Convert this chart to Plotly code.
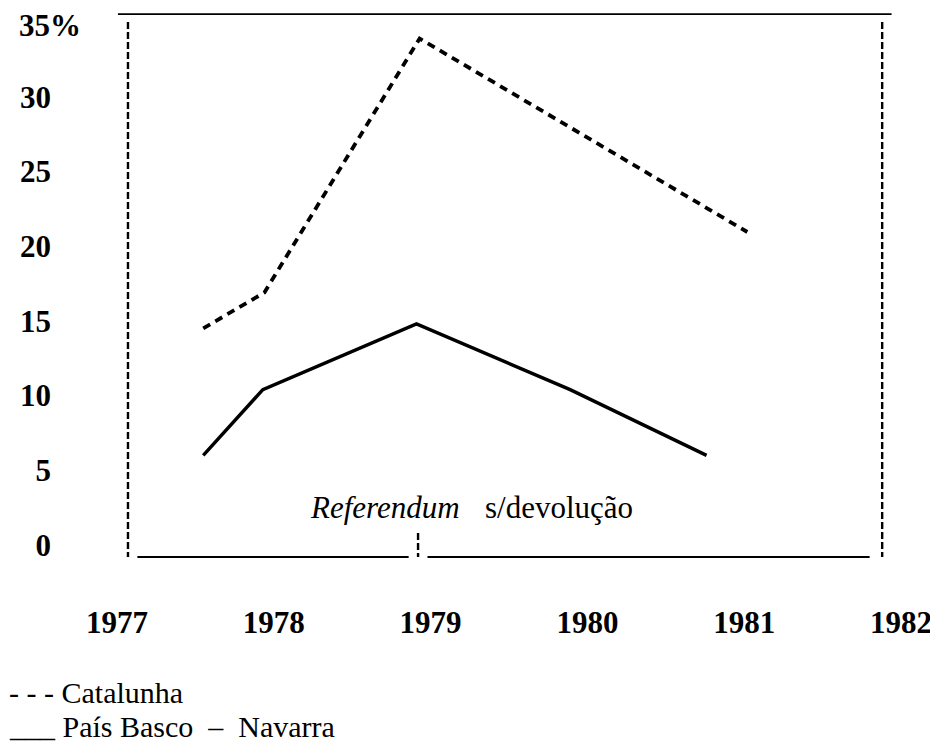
import plotly.graph_objects as go

# ---- data ----
cat_years = [1977.55, 1977.94, 1978.93, 1981.02]
cat_values = [14.5, 16.9, 33.9, 20.95]

pb_years = [1977.55, 1977.93, 1978.91, 1979.89, 1980.76]
pb_values = [6.0, 10.4, 14.8, 10.4, 6.0]

x_ticks = [1977, 1978, 1979, 1980, 1981, 1982]
x_labels = ["1977", "1978", "1979", "1980", "1981", "1982"]
y_ticks = [0, 5, 10, 15, 20, 25, 30]
y_labels = ["0", "5", "10", "15", "20", "25", "30"]
y_top_tick = 35
y_top_label = "35%"

FONT = "Liberation Serif"
W, H = 938, 749
OFF = 8  # page body margin offset
# plot-area edges in screen pixels
L, R, T, B = 60, 930, 8, 570
px_per_year = 156.8
x0_px = 117
px_per_unit = 14.94
y0_px = 545

xr = [1977 - (x0_px - L) / px_per_year, 1977 + (R - x0_px) / px_per_year]
yr = [(y0_px - B) / px_per_unit, (y0_px - T) / px_per_unit]


def px_x(sx):
    return (sx - L) / (R - L)


def px_y(sy):
    return (B - sy) / (B - T)


fig = go.Figure()
fig.add_trace(go.Scatter(x=cat_years, y=cat_values, mode="lines", name="Catalunha",
                         line=dict(color="black", width=3.8, dash="8px,6px"),
                         showlegend=False))
fig.add_trace(go.Scatter(x=pb_years, y=pb_values, mode="lines", name="País Basco – Navarra",
                         line=dict(color="black", width=3.4),
                         showlegend=False))

# frame (top solid, dashed sides, bottom solid with a break at the referendum)
frame_left, frame_right = 1977.07, 1981.88
top_y, bottom_y = 35.54, -0.8
side_top = 35.0
dash_side = dict(color="black", width=2.4, dash="7px,3px")
shapes = [
    dict(type="line", xref="x", yref="y", x0=1977.006, x1=1981.94, y0=top_y, y1=top_y,
         line=dict(color="black", width=1.8)),
    dict(type="line", xref="x", yref="y", x0=frame_left, x1=frame_left, y0=side_top, y1=bottom_y,
         line=dash_side),
    dict(type="line", xref="x", yref="y", x0=frame_right, x1=frame_right, y0=side_top, y1=bottom_y,
         line=dash_side),
    dict(type="line", xref="x", yref="y", x0=1977.13, x1=1978.86, y0=bottom_y, y1=bottom_y,
         line=dict(color="black", width=2)),
    dict(type="line", xref="x", yref="y", x0=1978.98, x1=1981.80, y0=bottom_y, y1=bottom_y,
         line=dict(color="black", width=2)),
    dict(type="line", xref="x", yref="y", x0=1978.92, x1=1978.92, y0=0.8, y1=bottom_y,
         line=dict(color="black", width=2.4, dash="7px,3px")),
]

annotations = [
    dict(text="<i>Referendum</i>", xref="x", yref="y", x=1979.20, y=2.54,
         xanchor="right", yanchor="middle", showarrow=False,
         font=dict(family=FONT, size=31, color="black")),
    dict(text="s/devolução", xref="x", yref="y", x=1979.334, y=2.54,
         xanchor="left", yanchor="middle", showarrow=False,
         font=dict(family=FONT, size=31, color="black")),
    dict(text=y_top_label, xref="paper", yref="y", x=px_x(18), y=y_top_tick, yshift=-3,
         xanchor="left", yanchor="middle", showarrow=False, borderpad=0,
         font=dict(family=FONT, size=31, color="black", weight=700)),
    dict(text="- - - Catalunha", xref="paper", yref="paper", x=px_x(8),
         y=px_y(692), xanchor="left", yanchor="middle", showarrow=False,
         borderpad=0, font=dict(family=FONT, size=30, color="black")),
    dict(text="___ País Basco\u00a0 –\u00a0 Navarra", xref="paper", yref="paper", x=px_x(8),
         y=px_y(726), xanchor="left", yanchor="middle", showarrow=False,
         borderpad=0, font=dict(family=FONT, size=30, color="black")),
]

fig.update_layout(
    width=W, height=H,
    margin=dict(l=L - OFF, r=W - (R - OFF), t=T - OFF, b=H - (B - OFF)),
    paper_bgcolor="white", plot_bgcolor="white",
    shapes=shapes, annotations=annotations,
    showlegend=False,
    xaxis=dict(range=xr, tickvals=x_ticks, ticktext=x_labels, showgrid=False,
               zeroline=False, showline=False, ticks="", ticklabelstandoff=31,
               tickfont=dict(family=FONT, size=31, color="black", weight=700)),
    yaxis=dict(range=yr, tickvals=y_ticks, ticktext=y_labels, showgrid=False,
               zeroline=False, showline=False, ticks="", ticklabelstandoff=8,
               tickfont=dict(family=FONT, size=31, color="black", weight=700)),
)

fig.write_html("out.html")
